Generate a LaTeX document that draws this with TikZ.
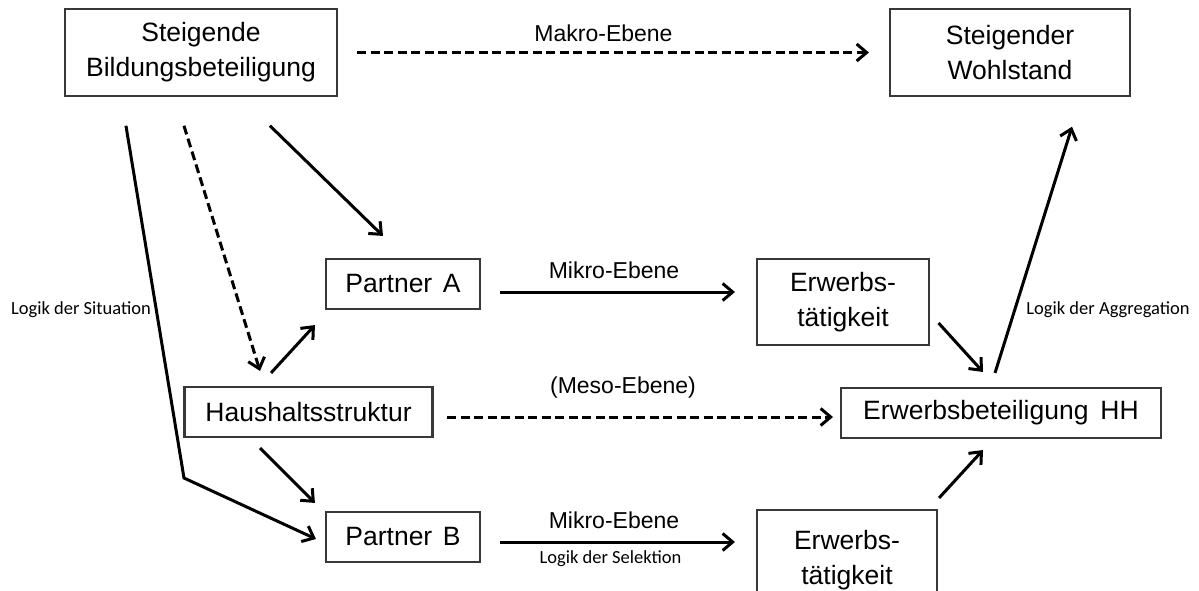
\documentclass[tikz,border=0pt]{standalone}
\usepackage{fontspec}
\setmainfont{Liberation Sans}
\newfontfamily\lblfont{Carlito}
\usetikzlibrary{arrows.meta}
\begin{document}
\begin{tikzpicture}[x=1pt,y=-1pt,
  box/.style={draw=black!78, line width=2.1pt, font=\fontsize{26.5}{35}\selectfont, align=center, inner sep=0pt, anchor=center},
  arr/.style={line width=3pt, -{Straight Barb[length=10pt,width=17pt]}},
  darr/.style={arr, dash pattern=on 9pt off 4.5pt},
  lvl/.style={font=\fontsize{23}{27}\selectfont, inner sep=0pt},
  lg/.style={font=\lblfont\fontsize{18.5}{22}\selectfont, inner sep=0pt}]
\clip (0,0) rectangle (1199,591);
\fill[white] (0,0) rectangle (1199,591);

% boxes
\node[box, minimum width=272pt, minimum height=86.4pt] (b1) at (201,52.5) {Steigende\\Bildungsbeteiligung};
\node[box, minimum width=240pt, minimum height=86.4pt] (wohl) at (1010,52.5) {Steigender\\Wohlstand};
\node[box, minimum width=154pt, minimum height=50pt] (pa) at (403,284) {Partner\hspace{0.4em}A};
\node[box, minimum width=172pt, minimum height=86pt] (et1) at (843,302) {Erwerbs-\\tätigkeit};
\node[box, minimum width=248pt, minimum height=50pt] (hs) at (308.5,412) {Haushaltsstruktur};
\node[box, minimum width=320pt, minimum height=50pt] (hh) at (1001,413) {Erwerbsbeteiligung\hspace{0.45em}HH};
\node[box, minimum width=154pt, minimum height=50pt] (pb) at (403,537) {Partner\hspace{0.4em}B};
\node[box, minimum width=180pt, minimum height=100pt] (et2) at (847,560) {Erwerbs-\\tätigkeit};

% labels
\node[lvl] (makro) at (603.5,33) {Makro-Ebene};
\node[lvl] (mikroa) at (614,270) {Mikro-Ebene};
\node[lvl] (meso) at (623,388) {(Meso-Ebene)};
\node[lvl] (mikrob) at (614,520) {Mikro-Ebene};
\node[lg] (selek) at (610.5,559) {Logik der Selektion};
\node[lg] (situ) at (81,310) {Logik der Situation};
\node[lg] (aggr) at (1108,310) {Logik der Aggregation};

\coordinate (bend) at (184,478);

% connectors
\draw[darr] ([xshift=19pt]b1.east) -- ([xshift=-20pt]wohl.west);
\draw[arr] ([xshift=62pt,yshift=-29pt]b1.south west) -- (bend) -- ([xshift=-9pt,yshift=-2pt]pb.west);
\draw[darr] ([xshift=120pt,yshift=-29pt]b1.south west) -- ([xshift=-48.5pt,yshift=15pt]hs.north);
\draw[arr] ([xshift=206pt,yshift=-29pt]b1.south west) -- ([xshift=-20pt,yshift=22pt]pa.north);
\draw[arr] ([xshift=-37.5pt,yshift=13pt]hs.north) -- ([xshift=-10pt,yshift=-15pt]pa.south west);
\draw[arr] ([xshift=-48.5pt,yshift=-10pt]hs.south) -- ([xshift=-10pt,yshift=8pt]pb.north west);
\draw[arr] ([xshift=19pt,yshift=-8pt]pa.east) -- ([xshift=-21pt,yshift=10pt]et1.west);
\draw[arr] ([xshift=19pt,yshift=-5pt]pb.east) -- ([xshift=-21pt,yshift=18pt]et2.west);
\draw[darr] ([xshift=13.5pt,yshift=-5pt]hs.east) -- ([xshift=-7pt,yshift=-4pt]hh.west);
\draw[arr] ([xshift=8.5pt,yshift=-21pt]et1.east) -- ([xshift=-18pt,yshift=15pt]hh.north);
\draw[arr] ([xshift=-6pt,yshift=14pt]hh.north) -- ([xshift=62pt,yshift=-30pt]wohl.south);
\draw[arr] ([xshift=1pt,yshift=11pt]et2.north east) -- ([xshift=-18pt,yshift=-11pt]hh.south);
\end{tikzpicture}
\end{document}
